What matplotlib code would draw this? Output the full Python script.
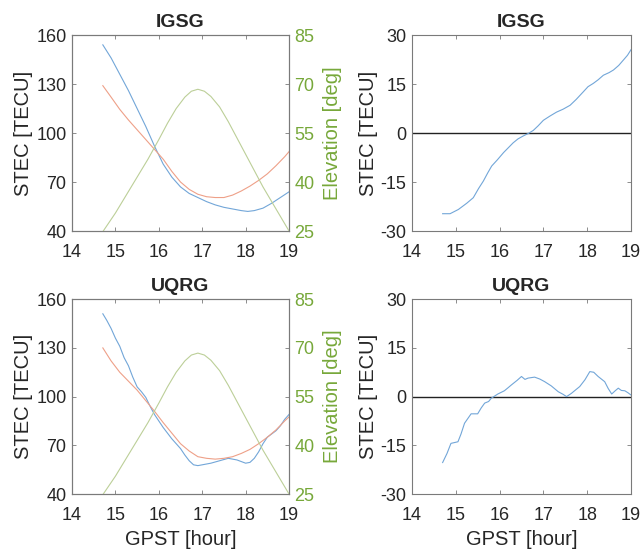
import numpy as np
import matplotlib.pyplot as plt
import matplotlib as mpl

mpl.rcParams['font.family'] = ['Liberation Sans', 'DejaVu Sans']
mpl.rcParams['axes.unicode_minus'] = False

# ---- data ----
# IGSG STEC (blue)
t_igsg = [14.71, 14.9, 15.1, 15.3, 15.5, 15.7, 15.9, 16.1, 16.3, 16.5, 16.7, 16.9, 17.1,
          17.3, 17.5, 17.7, 17.9, 18.05, 18.2, 18.4, 18.6, 18.8, 19.0]
v_igsg = [154, 146, 136, 126, 115, 104, 92, 81, 73, 67, 63, 60.5, 58,
          56, 54.5, 53.5, 52.5, 52, 52.5, 54, 57, 60.5, 64]

# reference STEC (red), IGSG panel
t_ref = [14.71, 14.9, 15.1, 15.3, 15.5, 15.7, 15.9, 16.1, 16.3, 16.5, 16.7, 16.9, 17.1,
         17.3, 17.5, 17.7, 17.9, 18.1, 18.3, 18.5, 18.7, 18.9, 19.0]
v_ref = [129, 122, 114.5, 108, 102, 96, 90, 84, 76.5, 70, 65.5, 62.5, 61,
         60.5, 60.5, 62, 64.5, 67.5, 71, 75, 80, 85.5, 88.6]

# UQRG STEC (blue)
t_uqrg = [14.71, 14.8, 14.9, 15.0, 15.1, 15.2, 15.3, 15.4, 15.5, 15.6, 15.7, 15.8, 15.9,
          16.0, 16.1, 16.2, 16.3, 16.4, 16.5, 16.6, 16.7, 16.8, 16.9, 17.0, 17.2, 17.4,
          17.6, 17.8, 17.9, 18.0, 18.1, 18.2, 18.3, 18.4, 18.5, 18.6, 18.7, 18.8, 18.9, 19.0]
v_uqrg = [151, 147, 142, 136, 131, 124, 119, 112, 106, 103, 99.5, 94, 89,
          85, 81, 77.5, 74, 71, 68, 64, 60.5, 58, 57.5, 58, 59, 60.5,
          62, 61, 60, 59, 59.5, 62, 66, 71, 75, 77, 79, 82, 86, 89]

# reference STEC (red), UQRG panel
t_ref2 = [14.71, 14.9, 15.1, 15.3, 15.5, 15.7, 15.9, 16.1, 16.3, 16.5, 16.7, 16.9, 17.1,
          17.3, 17.5, 17.7, 17.9, 18.1, 18.3, 18.5, 18.7, 18.9, 19.0]
v_ref2 = [130, 122, 115, 109.5, 104, 97.5, 91, 84, 77.5, 71, 66.5, 63, 62,
          61.5, 62, 63, 65, 67.5, 71, 75, 79.5, 85, 87.5]

# elevation (deg)
t_elev = [14.72, 15.0, 15.25, 15.5, 15.75, 16.0, 16.2, 16.4, 16.6, 16.75, 16.9, 17.05,
          17.2, 17.4, 17.6, 17.8, 18.0, 18.2, 18.4, 18.6, 18.8, 19.0]
v_elev = [25, 30.5, 36, 41.5, 47, 53, 58, 62.5, 66, 67.8, 68.4, 67.8,
          66.2, 63, 58.5, 53.5, 48.5, 43.5, 38.5, 34, 29.5, 25]

# STEC differences
t_d_igsg = [14.7, 14.87, 15.06, 15.25, 15.4, 15.52, 15.63, 15.73, 15.82, 15.95, 16.09, 16.2,
            16.31, 16.42, 16.54, 16.66, 16.77, 16.88, 17.0, 17.15, 17.3, 17.45, 17.61, 17.75,
            17.91, 18.02, 18.14, 18.25, 18.37, 18.5, 18.6, 18.72, 18.83, 18.92, 19.0]
v_d_igsg = [-24.7, -24.7, -23.4, -21.5, -19.8, -17, -14.7, -12.2, -10.1, -8.2, -6, -4.5,
            -3, -1.8, -0.9, -0.1, 0.8, 2.2, 3.9, 5.2, 6.4, 7.3, 8.5, 10.3,
            12.6, 14.2, 15.2, 16.3, 17.7, 18.5, 19.3, 20.7, 22.4, 23.8, 25.5]
t_d_uqrg = [14.7, 14.8, 14.89, 15.05, 15.12, 15.2, 15.35, 15.5, 15.58, 15.66, 15.75, 15.81,
            15.96, 16.11, 16.2, 16.27, 16.4, 16.5, 16.58, 16.65, 16.8, 16.92, 17.03, 17.18,
            17.34, 17.45, 17.53, 17.64, 17.73, 17.83, 17.95, 18.06, 18.15, 18.25, 18.4,
            18.48, 18.56, 18.64, 18.71, 18.78, 18.86, 18.93, 19.0]
v_d_uqrg = [-20.3, -17.5, -14.4, -13.9, -11.5, -8.2, -5.3, -5.3, -3.5, -2, -1.5, -0.5,
            0.8, 1.8, 2.8, 3.6, 5.0, 6.2, 5.3, 5.7, 6.0, 5.4, 4.6, 3.3,
            1.5, 0.7, 0.0, 1.0, 2.0, 3.1, 5.2, 7.7, 7.5, 6.2, 4.6,
            2.5, 0.8, 1.8, 2.6, 1.9, 1.8, 1.2, 0.5]

titles = ['IGSG', 'UQRG']

c_blue = '#72a6d8'
c_red = '#eea088'
c_green = '#bccf98'
c_gtxt = '#77a83a'
c_ax = '#7a7a7a'
c_txt = '#262626'

fig = plt.figure(figsize=(6.43, 5.52), dpi=100)


def style(ax):
    for s in ax.spines.values():
        s.set_color(c_ax)
        s.set_linewidth(0.8)
    ax.tick_params(direction='in', length=3, width=0.6, color=c_ax,
                   labelsize=13, labelcolor=c_txt)
    ax.tick_params(axis='x', pad=9)
    ax.tick_params(axis='y', pad=4)
    ax.set_xlim(14, 19)
    ax.set_xticks([14, 15, 16, 17, 18, 19])


lefts = [[0.112, 0.5815, 0.3375, 0.355], [0.112, 0.105, 0.3375, 0.353]]
rights = [[0.6407, 0.5815, 0.3406, 0.355], [0.6407, 0.105, 0.3406, 0.353]]
blues = [(t_igsg, v_igsg), (t_uqrg, v_uqrg)]
reds = [(t_ref, v_ref), (t_ref2, v_ref2)]
diffs = [(t_d_igsg, v_d_igsg), (t_d_uqrg, v_d_uqrg)]

for i in range(2):
    ax = fig.add_axes(lefts[i])
    ax.plot(blues[i][0], blues[i][1], color=c_blue, lw=0.8)
    ax.plot(reds[i][0], reds[i][1], color=c_red, lw=0.8)
    ax.set_ylim(40, 160)
    ax.set_yticks([40, 70, 100, 130, 160])
    style(ax)
    ax.tick_params(top=True)
    ax.set_ylabel('STEC [TECU]', fontsize=14.5, color=c_txt, labelpad=2)
    ax.set_title(titles[i], fontsize=14, fontweight='bold', color=c_txt, pad=6)
    ax2 = ax.twinx()
    ax2.plot(t_elev, v_elev, color=c_green, lw=0.8)
    ax2.set_ylim(25, 85)
    ax2.set_yticks([25, 40, 55, 70, 85])
    style(ax2)
    ax2.tick_params(axis='y', labelcolor=c_gtxt)
    ax2.set_ylabel('Elevation [deg]', fontsize=14.5, color=c_gtxt, labelpad=6)
    if i == 1:
        ax.set_xlabel('GPST [hour]', fontsize=14.5, color=c_txt, labelpad=5)

    axr = fig.add_axes(rights[i])
    axr.axhline(0, color='#222222', lw=1.0)
    axr.plot(diffs[i][0], diffs[i][1], color=c_blue, lw=0.8)
    axr.set_ylim(-30, 30)
    axr.set_yticks([-30, -15, 0, 15, 30])
    style(axr)
    axr.tick_params(top=True, right=True)
    axr.set_ylabel('STEC [TECU]', fontsize=14.5, color=c_txt, labelpad=2)
    axr.set_title(titles[i], fontsize=14, fontweight='bold', color=c_txt, pad=6)
    if i == 1:
        axr.set_xlabel('GPST [hour]', fontsize=14.5, color=c_txt, labelpad=5)

fig.savefig('out.png', dpi=100)
